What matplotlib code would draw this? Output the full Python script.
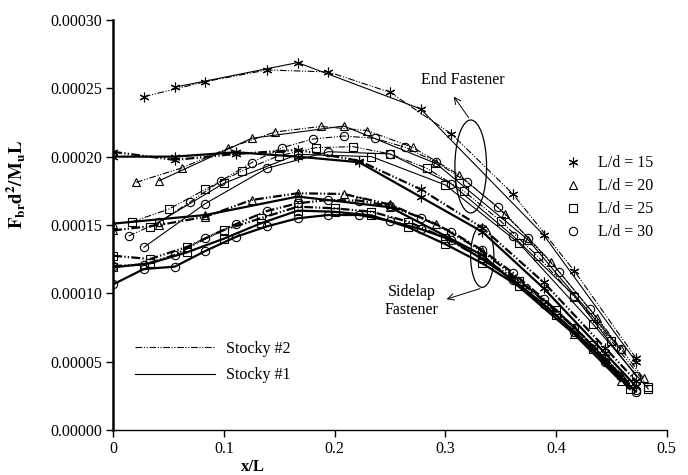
import numpy as np
import matplotlib
matplotlib.use("Agg")
import matplotlib.pyplot as plt
from matplotlib.patches import Ellipse
from matplotlib.lines import Line2D

plt.rcParams["font.family"] = ["Liberation Serif", "DejaVu Serif"]
plt.rcParams["mathtext.fontset"] = "stix"
plt.rcParams["font.size"] = 11.5

# point index -> x/L uses a spacing of 1/(2.4 L/d)
STEP = {15: 36, 20: 48, 25: 60, 30: 72}

# End fastener (thin lines), Stocky #2 = dash-dot-dot, Stocky #1 = solid, values x1e-4
e15_dd_k = [1, 3, 5, 7, 9, 11, 13, 15, 17]
e15_dd = [2.439, 2.549, 2.634, 2.620, 2.471, 2.166, 1.727, 1.163, 0.527]
e15_s_k = [2, 6, 10, 14, 17]
e15_s = [2.508, 2.688, 2.349, 1.427, 0.50]

e20_dd_k = [1, 3, 5, 7, 9, 11, 13, 15, 17, 19, 21, 23]
e20_dd = [1.812, 1.919, 2.063, 2.180, 2.221, 2.191, 2.067, 1.866, 1.582, 1.227, 0.817, 0.378]
e20_s_k = [2, 6, 10, 14, 18, 22]
e20_s = [1.824, 2.134, 2.224, 1.950, 1.390, 0.590]

e25_dd_k = [1, 3, 5, 7, 9, 11, 13, 15, 17, 19, 21, 23, 25, 27, 29]
e25_dd = [1.522, 1.615, 1.761, 1.897, 2.007, 2.066, 2.073, 2.020, 1.915, 1.749, 1.529, 1.273, 0.975, 0.653, 0.317]
e25_s_k = [2, 6, 10, 14, 18, 22, 26, 29]
e25_s = [1.483, 1.805, 2.017, 2.000, 1.793, 1.366, 0.776, 0.300]

e30_dd_k = [1, 3, 5, 7, 9, 11, 13, 15, 17, 19, 21, 23, 25, 27, 29, 31, 33]
e30_dd = [1.419, 1.522, 1.668, 1.822, 1.956, 2.066, 2.129, 2.151, 2.134, 2.068, 1.961, 1.815, 1.632, 1.405, 1.158, 0.883, 0.590]
e30_s_k = [2, 6, 10, 14, 18, 22, 26, 30, 34]
e30_s = [1.337, 1.657, 1.915, 2.036, 2.020, 1.800, 1.420, 0.980, 0.397]

# Sidelap fastener (thick lines)
s15_k = [0, 2, 4, 6, 8, 10, 12, 14, 16, 17]
s15_dd = [2.035, 1.976, 2.020, 2.049, 1.970, 1.761, 1.480, 1.080, 0.600, 0.360]
s15_s = [2.000, 2.000, 2.032, 2.000, 1.959, 1.705, 1.451, 1.037, 0.561, 0.320]

s20_dd_k = [0, 2, 4, 6, 8, 10, 12, 14, 16, 18, 20, 22]
s20_dd = [1.460, 1.500, 1.560, 1.683, 1.732, 1.727, 1.650, 1.507, 1.310, 1.040, 0.750, 0.400]
s20_s_k = [0, 4, 8, 12, 16, 20, 22]
s20_s = [1.510, 1.573, 1.708, 1.630, 1.280, 0.700, 0.360]

s25_k = [0, 2, 4, 6, 8, 10, 12, 14, 16, 18, 20, 22, 24, 26, 28]
s25_dd = [1.275, 1.251, 1.340, 1.463, 1.549, 1.634, 1.622, 1.597, 1.524, 1.403, 1.256, 1.090, 0.880, 0.620, 0.340]
s25_s = [1.190, 1.220, 1.300, 1.400, 1.512, 1.605, 1.597, 1.570, 1.483, 1.360, 1.220, 1.050, 0.840, 0.590, 0.300]

s30_k = [0, 2, 4, 6, 8, 10, 12, 14, 16, 18, 20, 22, 24, 26, 28, 30, 32, 34]
s30_dd = [1.200, 1.210, 1.280, 1.403, 1.507, 1.602, 1.659, 1.683, 1.678, 1.640, 1.553, 1.450, 1.317, 1.150, 0.960, 0.750, 0.520, 0.290]
s30_s = [1.066, 1.178, 1.195, 1.310, 1.414, 1.490, 1.549, 1.573, 1.573, 1.530, 1.470, 1.390, 1.250, 1.100, 0.920, 0.720, 0.500, 0.280]

MARK = {15: (6, 2, 0), 20: "^", 25: "s", 30: "o"}
MS = {15: 7, 20: 5.5, 25: 5.5, 30: 6}
DD = (6, 1.5, 1, 1.5, 1, 1.5)

series = [
    (15, e15_dd_k, e15_dd, "dd", 0.8), (15, e15_s_k, e15_s, "s", 0.8),
    (20, e20_dd_k, e20_dd, "dd", 0.8), (20, e20_s_k, e20_s, "s", 0.8),
    (25, e25_dd_k, e25_dd, "dd", 0.8), (25, e25_s_k, e25_s, "s", 0.8),
    (30, e30_dd_k, e30_dd, "dd", 0.8), (30, e30_s_k, e30_s, "s", 0.8),
    (15, s15_k, s15_dd, "dd", 1.6), (15, s15_k, s15_s, "s", 1.6),
    (20, s20_dd_k, s20_dd, "dd", 1.6), (20, s20_s_k, s20_s, "s", 1.6),
    (25, s25_k, s25_dd, "dd", 1.6), (25, s25_k, s25_s, "s", 1.6),
    (30, s30_k, s30_dd, "dd", 1.6), (30, s30_k, s30_s, "s", 1.6),
]

fig = plt.figure(figsize=(6.88, 4.75), dpi=100)
ax = fig.add_axes([0.1645, 0.0947, 0.8045, 0.8633])

for ld, ks, vals, sty, lw in series:
    x = np.array(ks) / STEP[ld]
    y = np.array(vals) * 1e-4
    line, = ax.plot(x, y, color="black", lw=lw, marker=MARK[ld], ms=MS[ld],
                    mfc="none", mec="black", mew=0.8)
    if sty == "dd":
        line.set_dashes(DD if lw < 1 else (4, 1, 0.6, 1, 0.6, 1))

# annotations
ax.add_patch(Ellipse((0.323, 0.0001928), 0.0286, 0.000068, fill=False, lw=0.9, color="black"))
ax.add_patch(Ellipse((0.3334, 0.0001272), 0.021, 0.0000456, fill=False, lw=0.9, color="black"))
ax.annotate("", xy=(0.3063, 0.0002456), xytext=(0.3226, 0.0002268),
            arrowprops=dict(arrowstyle="->", lw=0.7, color="black"))
ax.text(0.3154, 0.0002561, "End Fastener", ha="center", va="center", fontsize=11.5)
ax.annotate("", xy=(0.2988, 0.0000951), xytext=(0.3338, 0.0001041),
            arrowprops=dict(arrowstyle="->", lw=0.7, color="black"))
ax.text(0.2697, 0.0000944, "Sidelap\nFastener", ha="center", va="center",
        fontsize=11.5, linespacing=1.2)

# legends
mk_handles = [Line2D([], [], ls="none", marker=MARK[ld], ms=MS[ld], mfc="none",
                     mec="black", mew=0.8, color="black") for ld in (15, 20, 25, 30)]
leg1 = ax.legend(mk_handles, ["L/d = 15", "L/d = 20", "L/d = 25", "L/d = 30"],
                 loc="upper left", bbox_to_anchor=(0.8157, 0.670), frameon=False,
                 handlelength=1, handletextpad=1.1, labelspacing=0.44,
                 borderpad=0, borderaxespad=0, numpoints=1)
ax.add_artist(leg1)
st_dd = Line2D([], [], color="black", lw=0.8)
st_dd.set_dashes(DD)
st_s = Line2D([], [], color="black", lw=0.8)
ax.legend([st_dd, st_s], ["Stocky #2", "Stocky #1"], loc="upper left",
          bbox_to_anchor=(0.0394, 0.217), frameon=False, handlelength=5,
          handletextpad=0.7, labelspacing=0.65, borderpad=0, borderaxespad=0)

ax.set_xlim(0, 0.5)
ax.set_ylim(0, 0.0003)
ax.set_xticks([0, 0.1, 0.2, 0.3, 0.4, 0.5])
ax.set_xticklabels(["0", "0.1", "0.2", "0.3", "0.4", "0.5"])
yt = [0, 0.00005, 0.0001, 0.00015, 0.0002, 0.00025, 0.0003]
ax.set_yticks(yt)
ax.set_yticklabels([f"{v:.5f}" for v in yt])
ax.tick_params(direction="out", length=5, width=1, labelsize=11.5, pad=3)
ax.spines["top"].set_visible(False)
ax.spines["right"].set_visible(False)
ax.spines["left"].set_linewidth(1.8)
ax.spines["bottom"].set_linewidth(1.0)

ax.set_xlabel("x/L", fontweight="bold", fontsize=12)
ax.xaxis.set_label_coords(0.253, -0.07)
ax.set_ylabel(r"$\mathbf{F_{br}d^2/M_uL}$", fontsize=13.5)
ax.yaxis.set_label_coords(-0.155, 0.6)

fig.savefig("out.png", dpi=100)
